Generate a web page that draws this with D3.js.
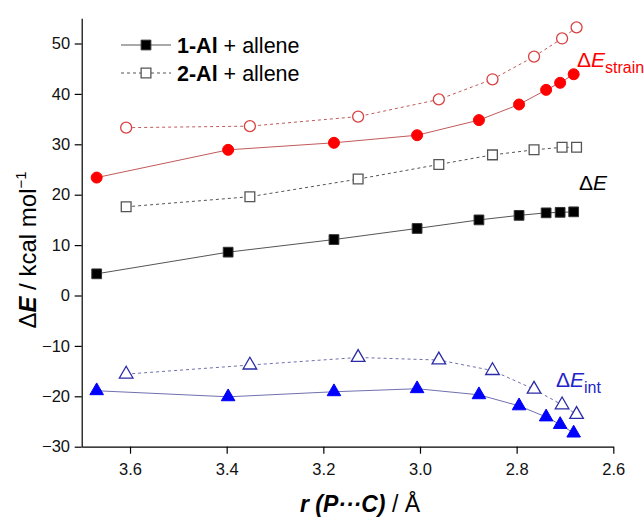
<!DOCTYPE html>
<html>
<head>
<meta charset="utf-8">
<script src="https://cdn.jsdelivr.net/npm/d3@7"></script>
<style>
  body { margin: 0; background: #fff; }
  svg text { font-family: "Liberation Sans", Arial, sans-serif; }
</style>
</head>
<body>
<div id="chart"></div>
<script>
// distances P...C (Å)
var r1 = [3.669, 3.397, 3.178, 3.006, 2.878, 2.795, 2.739, 2.710, 2.682],
    r2 = [3.608, 3.352, 3.128, 2.961, 2.850, 2.764, 2.706, 2.676];

// 1-Al + allene
var dE1     = [4.3, 8.6, 11.1, 13.3, 15.0, 15.9, 16.4, 16.5, 16.6],
    strain1 = [23.4, 28.9, 30.3, 31.8, 34.8, 37.9, 40.8, 42.2, 43.9],
    int1    = [-18.9, -20.1, -19.1, -18.5, -19.7, -21.9, -24.1, -25.6, -27.3];

// 2-Al + allene
var dE2     = [17.6, 19.6, 23.1, 26.0, 27.9, 28.9, 29.4, 29.4],
    strain2 = [33.3, 33.6, 35.5, 38.9, 42.9, 47.4, 51.0, 53.2],
    int2    = [-15.6, -13.8, -12.3, -12.8, -14.9, -18.6, -21.7, -23.6];

var xTicks = [3.6, 3.4, 3.2, 3.0, 2.8, 2.6],
    xMinor = [3.7, 3.5, 3.3, 3.1, 2.9, 2.7],
    yTicks = [-30, -20, -10, 0, 10, 20, 30, 40, 50],
    yMinor = [-25, -15, -5, 5, 15, 25, 35, 45, 55];

var width = 644, height = 520,
    plotL = 81.7, plotR = 613.3, plotT = 18.3, plotB = 446.7;

var x = d3.scaleLinear().domain([3.7, 2.6]).range([plotL, plotR]),
    y = d3.scaleLinear().domain([-30, 55]).range([plotB, plotT]);

var svg = d3.select("#chart").append("svg")
  .attr("width", width)
  .attr("height", height);

// axes
var gx = svg.append("g").attr("transform", "translate(0," + plotB + ")");
gx.call(d3.axisBottom(x).tickValues(xMinor).tickSize(4).tickSizeOuter(0).tickFormat(""));
gx.call(d3.axisBottom(x).tickValues(xTicks).tickSize(7).tickSizeOuter(0).tickFormat(d3.format(".1f")));
var gy = svg.append("g").attr("transform", "translate(" + plotL + ",0)");
gy.call(d3.axisLeft(y).tickValues(yMinor).tickSize(4).tickSizeOuter(0).tickFormat(""));
gy.call(d3.axisLeft(y).tickValues(yTicks).tickSize(7).tickSizeOuter(0));

svg.selectAll(".domain").attr("stroke", "#000").attr("stroke-width", 1.2);
svg.selectAll(".tick line").attr("stroke", "#000").attr("stroke-width", 1.2);
svg.selectAll(".tick text").attr("font-size", 16.5).attr("fill", "#111")
  .attr("font-family", "Liberation Sans, Arial, sans-serif");
gx.selectAll(".tick text").attr("dy", "1.1em");
gy.selectAll(".tick text").attr("dx", "-0.1em");

// axis titles
var yt = svg.append("text")
  .attr("transform", "translate(36,250) rotate(-90)")
  .attr("text-anchor", "middle")
  .attr("font-size", 24);
yt.append("tspan").text("Δ");
yt.append("tspan").attr("font-weight", "bold").attr("font-style", "italic").text("E");
yt.append("tspan").text(" / kcal mol");
yt.append("tspan").attr("font-size", 15).attr("dy", -10).text("−1");

var xt = svg.append("text")
  .attr("x", 360).attr("y", 512)
  .attr("text-anchor", "middle")
  .attr("font-size", 23);
xt.append("tspan").attr("font-weight", "bold").attr("font-style", "italic").text("r (P···C)");
xt.append("tspan").text(" / Å");

// series
var series = [
  {r: r1, v: strain1, line: "#c25a5a", dash: null, shape: "circle", fill: "#ff0000", stroke: "#ff0000"},
  {r: r2, v: strain2, line: "#c25a5a", dash: "3,3", shape: "circle", fill: "#fff", stroke: "#d94040"},
  {r: r1, v: dE1, line: "#555", dash: null, shape: "square", fill: "#000", stroke: "#333"},
  {r: r2, v: dE2, line: "#555", dash: "3,3", shape: "square", fill: "#fff", stroke: "#555"},
  {r: r1, v: int1, line: "#7070b0", dash: null, shape: "triangle", fill: "#0000ff", stroke: "#0000ff"},
  {r: r2, v: int2, line: "#7070b0", dash: "3,3", shape: "triangle", fill: "#fff", stroke: "#2a2aa8"}
];

var shapes = {
  circle: d3.symbol().type(d3.symbolCircle).size(95),
  square: d3.symbol().type(d3.symbolSquare).size(95),
  triangle: d3.symbol().type(d3.symbolTriangle).size(80)
};

var line = d3.line().x(function(d){ return x(d[0]); }).y(function(d){ return y(d[1]); });

series.forEach(function(s){
  var pts = s.r.map(function(r, i){ return [r, s.v[i]]; });
  svg.append("path")
    .attr("d", line(pts))
    .attr("fill", "none")
    .attr("stroke", s.line)
    .attr("stroke-width", 1)
    .attr("stroke-dasharray", s.dash);
  svg.selectAll(null).data(pts).enter().append("path")
    .attr("d", shapes[s.shape])
    .attr("transform", function(d){ return "translate(" + x(d[0]) + "," + y(d[1]) + ")"; })
    .attr("fill", s.fill)
    .attr("stroke", s.stroke)
    .attr("stroke-width", s.fill == "#fff" ? 1.3 : 1);
});

// legend
var legend = [
  {label: "1-Al", dash: null, fill: "#000"},
  {label: "2-Al", dash: "3,3", fill: "#fff"}
];
legend.forEach(function(l, i){
  var ly = 45 + i * 28;
  svg.append("line")
    .attr("x1", 121).attr("x2", 171).attr("y1", ly).attr("y2", ly)
    .attr("stroke", "#555").attr("stroke-width", 1).attr("stroke-dasharray", l.dash);
  svg.append("path")
    .attr("d", shapes.square)
    .attr("transform", "translate(146," + ly + ")")
    .attr("fill", l.fill).attr("stroke", l.fill == "#fff" ? "#555" : "#333")
    .attr("stroke-width", l.fill == "#fff" ? 1.3 : 1);
  var t = svg.append("text").attr("x", 177).attr("y", ly + 8).attr("font-size", 21.5);
  t.append("tspan").attr("font-weight", "bold").text(l.label);
  t.append("tspan").text(" + allene");
});

// curve labels
function deltaLabel(px, py, sub, color){
  var t = svg.append("text").attr("x", px).attr("y", py).attr("fill", color).attr("font-size", 21);
  t.append("tspan").text("Δ");
  t.append("tspan").attr("font-style", "italic").text("E");
  if (sub) t.append("tspan").attr("font-size", 16).attr("dy", 6).text(sub);
}
deltaLabel(577, 67, "strain", "#ff0000");
deltaLabel(579, 190, null, "#000");
deltaLabel(556, 387, "int", "#2424c8");
</script>
</body>
</html>
